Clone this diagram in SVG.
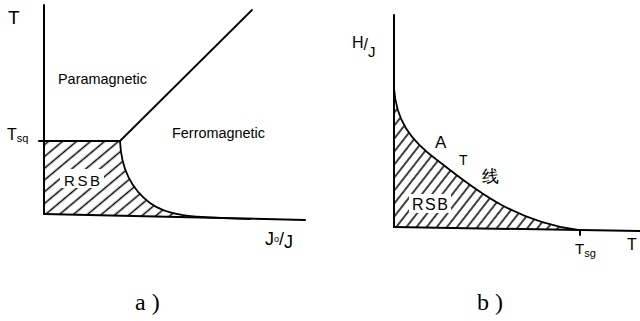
<svg xmlns="http://www.w3.org/2000/svg" width="640" height="321" viewBox="0 0 640 321">
<style>
.ax{stroke:#000;stroke-width:2;fill:none;stroke-linecap:round}
.cv{stroke:#000;stroke-width:1.8;fill:none;stroke-linecap:round}
.hw{font-family:"Liberation Sans",Arial,sans-serif;fill:#000}
.cap{font-family:"Liberation Serif","Times New Roman",serif;fill:#000;font-size:24px}
</style>
<defs>
<pattern id="hatchA" width="9" height="9" patternUnits="userSpaceOnUse" patternTransform="rotate(-40)">
<line x1="0" y1="4.5" x2="9" y2="4.5" stroke="#000" stroke-width="1.5"/>
</pattern>
<pattern id="hatchB" width="8" height="8" patternUnits="userSpaceOnUse" patternTransform="rotate(-52)">
<line x1="0" y1="4" x2="8" y2="4" stroke="#000" stroke-width="1.5"/>
</pattern>
</defs>
<rect width="640" height="321" fill="#fff"/>

<g id="panel-a">
<g id="rsb-a">
<path d="M44,141 H120 C121,165 130,188 150,203 S200,217 250,219 L44,214 Z" fill="url(#hatchA)"/>
<rect x="60" y="169" width="44" height="19" fill="#fff"/>
<text class="hw" x="64" y="186" font-size="15" textLength="36" lengthAdjust="spacing">RSB</text>
</g>
<g id="axes-a">
<line class="ax" x1="44" y1="5" x2="44" y2="214"/>
<line class="ax" x1="44" y1="214" x2="305" y2="220"/>
<line class="ax" x1="39" y1="141" x2="44" y2="141"/>
</g>
<g id="boundaries-a">
<path class="cv" d="M44,141 H120"/>
<path class="cv" d="M120,141 L252,10"/>
<path class="cv" d="M120,141 C121,165 130,188 150,203 S200,217 250,219"/>
</g>
<text class="hw" x="8" y="24" font-size="19">T</text>
<text class="hw" x="7" y="140" font-size="16">T<tspan font-size="11" dy="2">sq</tspan></text>
<text class="hw" x="58" y="84" font-size="15" textLength="89" lengthAdjust="spacingAndGlyphs">Paramagnetic</text>
<text class="hw" x="172" y="138" font-size="14" textLength="93" lengthAdjust="spacingAndGlyphs">Ferromagnetic</text>
<text class="hw" x="265" y="245" font-size="18">J<tspan font-size="9" dy="-3">o</tspan><tspan dy="3">/</tspan><tspan dy="3">J</tspan></text>
<text class="cap" x="135" y="310">a<tspan dx="6">)</tspan></text>
</g>

<g id="panel-b">
<g id="rsb-b">
<path d="M394,88 C396,120 410,140 437,160 S508,221 578,230 L394,227 Z" fill="url(#hatchB)"/>
<rect x="409" y="194" width="42" height="19" fill="#fff"/>
<text class="hw" x="412" y="210" font-size="16" textLength="36" lengthAdjust="spacing">RSB</text>
</g>
<g id="axes-b">
<line class="ax" x1="394" y1="15" x2="394" y2="227"/>
<line class="ax" x1="394" y1="227" x2="640" y2="231"/>
<line class="ax" x1="580" y1="230" x2="580" y2="235"/>
</g>
<g id="at-line">
<path class="cv" d="M394,88 C396,120 410,140 437,160 S508,221 578,230"/>
</g>
<text class="hw" x="352" y="48" font-size="16">H<tspan dy="2">/</tspan><tspan dy="7" font-size="15">J</tspan></text>
<text class="hw" x="435" y="148" font-size="17">A</text>
<text class="hw" x="459" y="165" font-size="14">T</text>
<text class="hw" x="482" y="182" font-size="17" font-family="'Noto Sans CJK SC',sans-serif">线</text>
<text class="hw" x="575" y="254" font-size="15">T<tspan font-size="11" dy="3">sg</tspan></text>
<text class="hw" x="627" y="250" font-size="16">T</text>
<text class="cap" x="477" y="310">b<tspan dx="6">)</tspan></text>
</g>
</svg>
